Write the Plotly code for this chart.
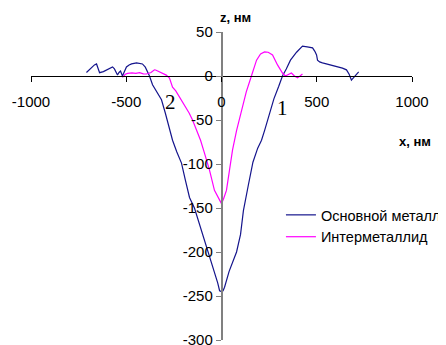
import plotly.graph_objects as go

# Основной металл (curve 1)
x_base = [-709, -690, -667, -656, -640, -620, -604, -577, -572, -562, -546, -538, -530, -520,
          -510, -499, -485, -472, -446, -430, -415, -400, -388, -378, -362, -340, -315, -295,
          -273, -257, -235, -210, -190, -168, -142, -105, -68, -40, -20, -10, 0, 8, 16, 40,
          79, 100, 115, 140, 165, 190, 210, 226, 250, 275, 300, 320, 340, 362, 394, 410, 425,
          450, 478, 490, 499, 504, 515, 530, 550, 577, 605, 635, 656, 670, 682, 700, 720]
z_base = [4, 8, 12.6, 13.7, 3.8, 5, 6.8, 9.5, 10.3, 8, 1.1, 4, 5.7, 0,
          6, 10.3, 12.5, 13.7, 14.8, 14.5, 13.7, 10, 4.6, 0, -10, -18, -27, -42,
          -62, -73, -86, -99, -118, -138, -150, -175, -200, -220, -235, -244, -245, -244, -240, -222,
          -200, -180, -153, -125, -98, -82, -73, -62, -44, -26, -12, 0, 8, 18, 27, 31, 34,
          33, 32, 28, 24, 18, 16, 15, 14, 12.5, 10.5, 9, 7, 2, -4.6, 0, 4.6]

# Интерметаллид (curve 2)
x_inter = [-520, -505, -493, -470, -450, -430, -410, -394, -370, -352, -346, -330, -310, -290,
           -273, -257, -240, -220, -194, -170, -152, -131, -110, -89, -63, -37, -10, 0, 10,
           26, 42, 58, 79, 105, 130, 157, 184, 205, 226, 245, 268, 294, 320, 335, 346, 358,
           367, 383, 399, 412, 425]
z_inter = [-1.5, 2, 3, 3.5, 3, 3.8, 2.5, 2.3, 4, 7, 6.8, 5, 3.4, 1,
           -2.3, -12.6, -17, -24, -33, -42, -50, -62, -73, -88, -107, -130, -142, -145, -140,
           -130, -107, -84, -62, -39, -18, 0, 18, 25, 27.4, 27, 24, 12.6, 3.4, 0, 1.1, 2,
           3.4, 0, -2, 0, 2.3]

x_ticks = [-1000, -500, 0, 500, 1000]
y_ticks = [50, 0, -50, -100, -150, -200, -250, -300]

names = ["Основной металл", "Интерметаллид"]
colors = ["#14148c", "#ff00ff"]

fig = go.Figure()
fig.add_trace(go.Scatter(x=x_base, y=z_base, mode="lines", name=names[0],
                         line=dict(color=colors[0], width=1.2)))
fig.add_trace(go.Scatter(x=x_inter, y=z_inter, mode="lines", name=names[1],
                         line=dict(color=colors[1], width=1.2)))

font = "Liberation Sans, Arial, sans-serif"

fig.update_layout(
    width=446, height=345,
    margin=dict(l=23, r=42, t=24, b=13, autoexpand=False),
    paper_bgcolor="white", plot_bgcolor="white",
    font=dict(family=font, size=15, color="black"),
    showlegend=True,
    legend=dict(x=0.656, y=0.458, xanchor="left", yanchor="top",
                font=dict(family=font, size=14.5, color="black"),
                itemwidth=30, tracegroupgap=0, bgcolor="rgba(0,0,0,0)"),
    xaxis=dict(range=[-1000, 1000], tickvals=x_ticks, ticktext=[str(v) for v in x_ticks],
               showgrid=False, zeroline=False, showline=True, linecolor="black", linewidth=1,
               ticks="outside", ticklen=5, tickcolor="black", anchor="free", position=300 / 350,
               ticklabelstandoff=7, automargin=False),
    yaxis=dict(range=[-300, 50], tickvals=y_ticks, ticktext=[str(v) for v in y_ticks],
               showgrid=False, zeroline=False, showline=True, linecolor="#808080", linewidth=1.5,
               ticks="outside", ticklen=5, tickcolor="#808080", anchor="free", position=0.5,
               automargin=False),
    annotations=[
        dict(text="<b>z, нм</b>", x=0.5, y=1.0, xref="paper", yref="paper",
             xanchor="left", yanchor="middle", showarrow=False, xshift=-4, yshift=15,
             font=dict(family=font, size=13)),
        dict(text="<b>x, нм</b>", x=1.0, y=300 / 350, xref="paper", yref="paper",
             xanchor="center", yanchor="middle", showarrow=False, xshift=3, yshift=-65,
             font=dict(family=font, size=13)),
        dict(text="2", x=-270, y=-30, showarrow=False,
             font=dict(family="Liberation Serif, Times New Roman, serif", size=21)),
        dict(text="1", x=320, y=-36, showarrow=False,
             font=dict(family="Liberation Serif, Times New Roman, serif", size=21)),
    ],
)

fig.write_html("out.html")
